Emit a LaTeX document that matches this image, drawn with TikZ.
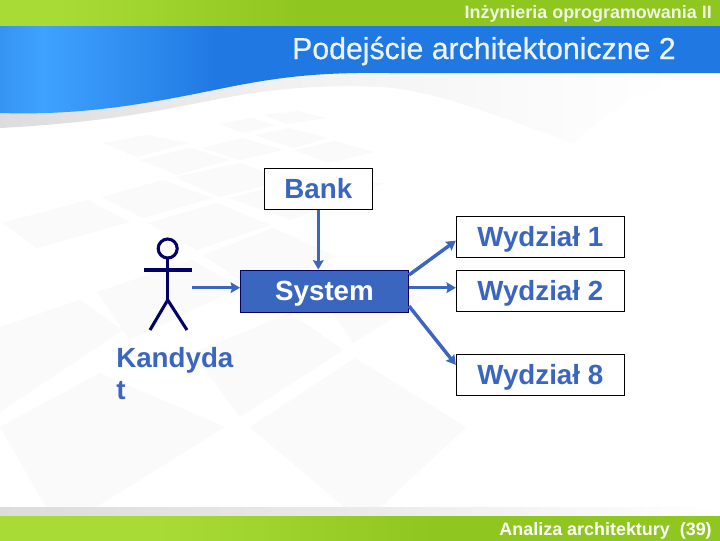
\documentclass[tikz,border=0pt]{standalone}
\usepackage{fontspec}
\setmainfont{Liberation Sans}
\newfontfamily\titlefont[FakeBold=0.6]{Liberation Sans}
\usetikzlibrary{arrows.meta}
\definecolor{labelblue}{HTML}{3A66C0}
\definecolor{stickblue}{HTML}{000066}
\definecolor{bandblue}{HTML}{2079E2}
\definecolor{skyblue}{HTML}{3FA2FF}
\definecolor{edgeblue}{HTML}{3594F2}
\definecolor{bandgreen}{HTML}{8FC61F}
\definecolor{limegreen}{HTML}{A9DB36}
\definecolor{tilegray}{HTML}{FAFAFA}
\definecolor{shadegray}{HTML}{DCDCDC}
\pgfdeclarehorizontalshading{topgreen}{100bp}{color(0bp)=(limegreen); color(29bp)=(limegreen); color(46bp)=(bandgreen); color(100bp)=(bandgreen)}
\pgfdeclarehorizontalshading{lowgreen}{100bp}{color(0bp)=(limegreen); color(36bp)=(limegreen); color(55bp)=(bandgreen); color(100bp)=(bandgreen)}
\pgfdeclarehorizontalshading{blueband}{100bp}{color(0bp)=(edgeblue); color(25bp)=(edgeblue); color(28bp)=(skyblue); color(40bp)=(bandblue); color(100bp)=(bandblue)}
\pgfdeclarehorizontalshading{swoosh}{100bp}{color(0bp)=(shadegray); color(25bp)=(shadegray); color(45bp)=(shadegray!40); color(60bp)=(shadegray!15); color(72bp)=(white); color(100bp)=(white)}
\pgfdeclarehorizontalshading{strip}{100bp}{color(0bp)=(shadegray); color(25bp)=(shadegray); color(50bp)=(shadegray!60); color(75bp)=(white); color(100bp)=(white)}
\begin{document}
\begin{tikzpicture}[x=0.75pt,y=-0.75pt,
                arrow/.style = {draw=labelblue,line width=2.6pt,-{Stealth[length=7pt,width=8pt,inset=1pt]}},
                box/.style = {draw=black,fill=white,line width=0.7pt,text=labelblue,font=\bfseries\fontsize{20.8}{24}\selectfont,minimum height=30.6pt,inner sep=0pt,text height=14pt,text depth=0pt},
                band/.style = {anchor=base east,inner sep=0pt,font=\bfseries\fontsize{13.45}{16}\selectfont},
                stick/.style = {draw=stickblue,line width=2.3pt},
                tile/.style = {fill=tilegray}]
                \useasboundingbox (0,0) rectangle (720,540);
                \fill[white] (0,0) rectangle (720,540);

                % floor tiles
                \fill[tile] (220,124) -- (252,118) -- (275,125) -- (243,133) -- cycle;
                \fill[tile] (263,115) -- (297,111) -- (325,118) -- (287,124) -- cycle;
                \fill[tile] (255,135) -- (290,128) -- (328,138) -- (293,148) -- cycle;
                \fill[tile] (103,143) -- (148,135) -- (188,143) -- (137,157) -- cycle;
                \fill[tile] (140,160) -- (190,148) -- (230,160) -- (177,175) -- cycle;
                \fill[tile] (202,148) -- (242,138) -- (283,150) -- (240,160) -- cycle;
                \fill[tile] (295,150) -- (335,141) -- (375,152) -- (328,163) -- cycle;
                \fill[tile] (102,197) -- (163,180) -- (212,198) -- (143,218) -- cycle;
                \fill[tile] (175,177) -- (240,163) -- (287,180) -- (220,197) -- cycle;
                \fill[tile] (230,198) -- (300,180) -- (385,183) -- (290,220) -- cycle;
                \fill[tile] (2,223) -- (88,200) -- (130,222) -- (37,248) -- cycle;
                \fill[tile] (148,223) -- (217,203) -- (270,225) -- (197,250) -- cycle;
                \fill[tile] (203,255) -- (273,228) -- (337,257) -- (250,287) -- cycle;
                \fill[tile] (97,292) -- (192,260) -- (240,287) -- (130,340) -- cycle;
                \fill[tile] (0,327) -- (80,300) -- (123,330) -- (0,412) -- cycle;
                \fill[tile] (193,353) -- (290,313) -- (343,350) -- (240,417) -- cycle;
                \fill[tile] (310,280) -- (427,297) -- (353,343) -- cycle;
                \fill[tile] (0,427) -- (100,373) -- (225,427) -- (96,507) -- (46,507) -- cycle;
                \fill[tile] (250,427) -- (355,358) -- (466,427) -- (381,507) -- (344,507) -- cycle;

                % header and footer
                \shade[shading=topgreen] (0,0) rectangle (720,25);
                \shade[shading=swoosh] (0,128) .. controls (115,122) and (170,108) .. (229,97)
                    .. controls (290,86) and (340,85) .. (381,87)
                    .. controls (440,90) and (520,125) .. (573,143)
                    .. controls (610,110) and (650,80) .. (720,73) -- (0,73) -- cycle;
                \shade[shading=blueband] (0,26) -- (720,26) -- (720,73) -- (390,73)
                    .. controls (320,72) and (280,77) .. (229,87)
                    .. controls (160,101) and (90,116) .. (0,113) -- cycle;
                \shade[shading=strip] (0,507) rectangle (720,516);
                \shade[shading=lowgreen] (0,516.5) rectangle (720,540);

                \node[band,text=white!88!bandgreen] (course) at (712,18) {Inżynieria oprogramowania II};
                \node[anchor=base east,inner sep=0pt,text=white!92!bandblue,font=\titlefont\fontsize{22.7}{27}\selectfont] (title) at (676,59) {Podejście architektoniczne 2};
                \node[band,text=white] (footer) at (712,535) {Analiza architektury\ \ (39)};

                % nodes
                \node[box,minimum width=81pt] (bank) at (318.3,188.7) {Bank};
                \node[box,minimum width=126pt,fill=labelblue,draw=stickblue,text=white,minimum height=31.5pt] (system) at (324.5,291) {System};
                \node[box,minimum width=126pt] (dept1) at (540.3,236.7) {Wydział 1};
                \node[box,minimum width=126pt] (dept2) at (540.3,290.7) {Wydział 2};
                \node[box,minimum width=126pt] (dept8) at (540.3,374.8) {Wydział 8};

                % stick figure
                \draw[stick] (167.7,248.5) circle (9.5);
                \draw[stick] (167.7,258) -- (167.7,300);
                \draw[stick] (144,270) -- (192,270);
                \draw[stick] (150,330) -- (167.7,300) -- (187,330);
                \coordinate (hand) at (192,287.7);
                \node[anchor=north west,align=left,inner sep=0pt,text=labelblue,font=\bfseries\fontsize{20.8}{24}\selectfont] (actor) at (116,347) {Kandyda\\t};

                \draw[arrow] (hand) -- (system.west |- hand);
                \draw[arrow] (bank.south) -- (bank.south |- system.north);
                \draw[arrow] (system.east |- hand) -- (dept2.west |- hand);
                \draw[arrow] ([yshift=12pt]system.east) -- ([yshift=-3pt]dept1.west);
                \draw[arrow] ([yshift=-11.25pt]system.east) -- ([yshift=7.5pt]dept8.west);
\end{tikzpicture}
\end{document}
